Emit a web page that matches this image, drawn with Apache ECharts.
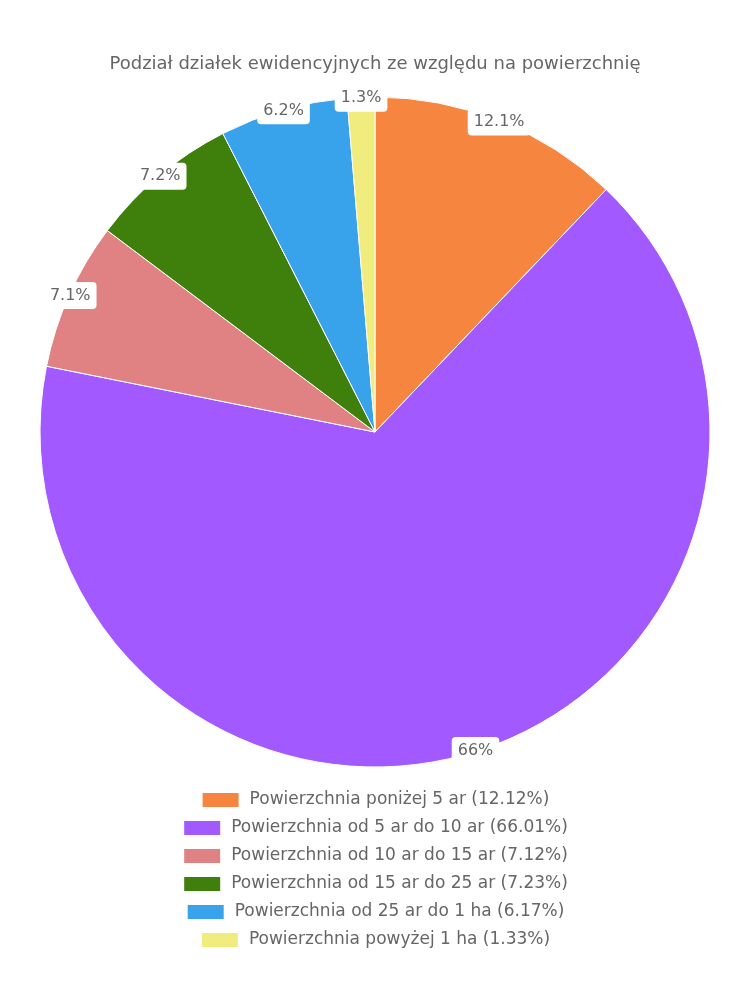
<!DOCTYPE html>
<html>
<head>
<meta charset="utf-8">
<script src="https://cdn.jsdelivr.net/npm/echarts@6/dist/echarts.min.js"></script>
<style>html,body{margin:0;padding:0;background:#fff}#c{width:750px;height:1000px}</style>
</head>
<body>
<div id="c"></div>
<script>
var categories = [
  "Powierzchnia poniżej 5 ar",
  "Powierzchnia od 5 ar do 10 ar",
  "Powierzchnia od 10 ar do 15 ar",
  "Powierzchnia od 15 ar do 25 ar",
  "Powierzchnia od 25 ar do 1 ha",
  "Powierzchnia powyżej 1 ha"
];
var values = [12.12, 66.01, 7.12, 7.23, 6.17, 1.33];
var colors = ["#F5853F", "#A259FF", "#E08283", "#3F7F0C", "#38A2EB", "#F0EC7E"];
var titleText = "Podział działek ewidencyjnych ze względu na powierzchnię";

var FONT = "DejaVu Sans";
var data = categories.map(function (n, i) {
  return { name: n, value: values[i], itemStyle: { color: colors[i] } };
});
var valueOf = {};
categories.forEach(function (n, i) { valueOf[n] = values[i]; });

var legends = categories.map(function (n, i) {
  return {
    data: [{ name: n, icon: "rect" }],
    left: "center",
    top: 791 + i * 28,
    orient: "horizontal",
    itemWidth: 38,
    itemHeight: 16,
    itemGap: 10,
    padding: 0,
    selectedMode: false,
    textStyle: { fontFamily: FONT, fontSize: 17, color: "#666", padding: [0, 0, 0, 5] },
    formatter: function (name) { return name + " (" + valueOf[name] + "%)"; }
  };
});

var chart = echarts.init(document.getElementById("c"), null, { renderer: "canvas" });
chart.setOption({
  animation: false,
  title: {
    text: titleText,
    left: "center",
    top: 50,
    textStyle: { fontFamily: FONT, fontSize: 18, fontWeight: "normal", color: "#666" }
  },
  legend: legends,
  series: [
    {
      type: "pie",
      center: [375, 432],
      radius: [0, 335],
      startAngle: 90,
      clockwise: true,
      data: data,
      itemStyle: { borderColor: "#fff", borderWidth: 1 },
      label: { show: false },
      labelLine: { show: false },
      emphasis: { disabled: true }
    },
    {
      type: "pie",
      center: [375, 432],
      radius: [331, 331],
      startAngle: 90,
      clockwise: true,
      silent: true,
      data: data.map(function (d) { return { name: d.name, value: d.value, itemStyle: { color: "rgba(0,0,0,0)" } }; }),
      itemStyle: { borderWidth: 0 },
      label: {
        show: true,
        position: "inside",
        formatter: function (p) { return parseFloat(p.value.toFixed(1)) + "%"; },
        fontFamily: FONT,
        fontSize: 16,
        color: "#666",
        backgroundColor: "#fff",
        borderRadius: 4,
        padding: [6, 6, 5, 6]
      },
      labelLine: { show: false },
      emphasis: { disabled: true }
    }
  ]
});
</script>
</body>
</html>
